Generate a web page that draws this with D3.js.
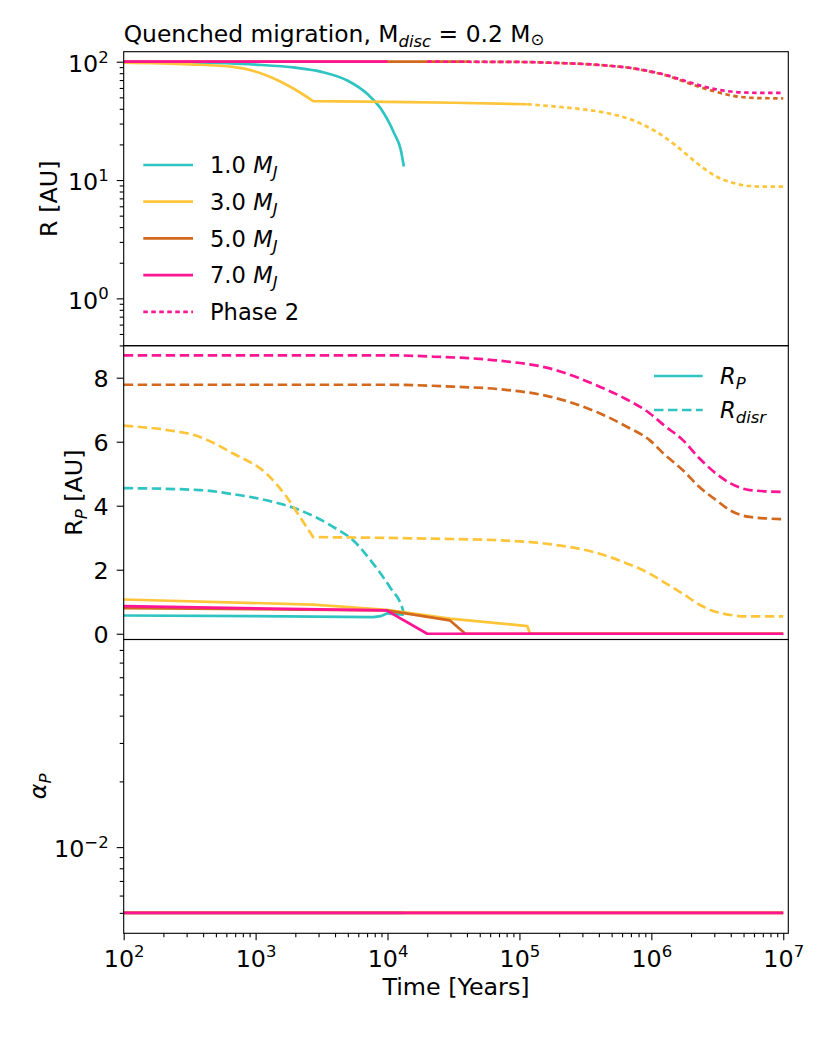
<!DOCTYPE html>
<html>
<head>
<meta charset="utf-8">
<script src="https://cdn.jsdelivr.net/npm/d3@7"></script>
<style>
body { margin: 0; background: #fff; }
text { font-family: "DejaVu Sans", sans-serif; fill: #000; }
</style>
</head>
<body>
<div id="chart-area"></div>
<script>
// ---- data ----
let masses = ['1.0', '3.0', '5.0', '7.0'];
let colors = ['#2ec4c2', '#ffc53a', '#d2691e', '#ff1493'];

// Top panel: R [AU], phase 1 (solid)
let rTime1 = [
    [100, 316, 1000, 2000, 3160, 5000, 7080, 8910, 11200, 12600, 13300],
    [100, 316, 676, 1200, 1905, 2730, 10000, 31600, 114800],
    [100, 38900],
    [100, 10000]
];
let rVal1 = [
    [99.5, 98.5, 94.5, 89, 82, 69, 53, 40, 25, 18, 13],
    [98, 95, 90.5, 77, 60, 46.5, 45.8, 45, 43.7],
    [100, 100],
    [100, 100]
];
// Top panel: R [AU], phase 2 (dotted)
let rTime2 = [
    [],
    [114800, 199500, 281800, 405500, 562300, 726100, 1000000, 1300000, 1585000, 2065000, 2512000, 3105000, 3981000, 5559000, 7079000, 10000000],
    [38900, 100000, 199500, 316200, 501200, 726100, 1000000, 1300000, 1585000, 2065000, 2512000, 3105000, 3981000, 5559000, 7079000, 10000000],
    [20000, 100000, 199500, 316200, 501200, 726100, 1000000, 1300000, 1585000, 2065000, 2512000, 3105000, 3981000, 5559000, 7079000, 10000000]
];
let rVal2 = [
    [],
    [43.7, 41.5, 40, 37.8, 35, 32, 27, 22.5, 19, 14.8, 12.5, 10.7, 9.6, 8.9, 8.8, 8.8],
    [100, 99.5, 97.5, 95.5, 92, 88, 82, 76.5, 71, 64, 59.5, 55.7, 52, 49.6, 49.2, 49],
    [100, 99.5, 97.5, 95.5, 92, 88, 82.5, 77, 72, 65.6, 61.5, 58.4, 56, 54.7, 54.5, 54.5]
];

// Middle panel: R_P (solid)
let rpTime = [
    [100, 1000, 7780, 8910, 10000, 10700, 13300],
    [100, 2730, 9820, 29650, 114800, 120200, 10000000],
    [100, 9820, 29650, 38900, 10000000],
    [100, 9820, 20000, 10000000]
];
let rpVal = [
    [0.57, 0.55, 0.52, 0.55, 0.64, 0.62, 0.6],
    [1.07, 0.91, 0.75, 0.47, 0.24, 0, 0],
    [0.8, 0.73, 0.42, 0, 0],
    [0.86, 0.73, 0, 0]
];
// Middle panel: R_disr (dashed)
let rdTime = [
    [100, 378, 676, 1210, 2170, 3870, 5480, 7780, 10400, 13100, 13300],
    [100, 200, 378, 676, 1210, 1714, 2168, 2729, 22130, 70800, 169800, 405500, 631000, 970000, 1259000, 1734000, 2291000, 3105000, 5559000, 10000000],
    [100, 10000, 31600, 70800, 169800, 405500, 631000, 970000, 1259000, 1734000, 2291000, 3105000, 3981000, 5559000, 10000000],
    [100, 10000, 22130, 70800, 169800, 405500, 631000, 970000, 1259000, 1734000, 2291000, 3105000, 3981000, 5559000, 10000000]
];
let rdVal = [
    [4.55, 4.49, 4.36, 4.17, 3.86, 3.34, 2.92, 2.19, 1.46, 0.73, 0.62],
    [6.5, 6.38, 6.15, 5.63, 5.0, 4.28, 3.65, 3.02, 2.97, 2.92, 2.8, 2.5, 2.22, 1.88, 1.6, 1.25, 0.92, 0.68, 0.54, 0.54],
    [7.78, 7.78, 7.72, 7.64, 7.41, 6.89, 6.5, 6.05, 5.6, 5.11, 4.6, 4.17, 3.85, 3.65, 3.58],
    [8.7, 8.7, 8.66, 8.53, 8.29, 7.72, 7.35, 6.89, 6.5, 6.05, 5.5, 5.0, 4.7, 4.49, 4.43]
];

// Bottom panel: alpha_P
let aTime = [
    [100, 13300],
    [100, 10000000],
    [100, 10000000],
    [100, 10000000]
];
let aVal = [
    [0.005, 0.005],
    [0.005, 0.005],
    [0.005, 0.005],
    [0.005, 0.005]
];

// sharp corners (index of the point) in the smooth curves
let rKink1 = [[], [5], [], []];
let rdKink = [[], [7], [], []];

let xMajor = [1e2, 1e3, 1e4, 1e5, 1e6, 1e7];
let xExp = ['2', '3', '4', '5', '6', '7'];
let rMajor = [1, 10, 100];
let rExp = ['0', '1', '2'];
let rpTicks = [0, 2, 4, 6, 8];
let aMajor = [0.01];
let aExp = ['\u22122'];

// ---- layout ----
let svgWidth = 830, svgHeight = 1038;
let left = 123.7, right = 788.3;
let pTop = [51.7, 345.7], pMid = [345.7, 639.5], pBot = [639.5, 933.3];
let fs = 23.8;      // ticks and axis labels
let fsTitle = 23.4;
let fsLeg = 22.6;
let fsSub = 16.5;

let svg = d3.select('#chart-area')
    .append('svg')
    .attr('width', svgWidth)
    .attr('height', svgHeight);

// Scales
let x = d3.scaleLog().domain([100, 1.092e7]).range([left, right]);
let yTop = d3.scaleLog().domain([0.398, 121.5]).range([pTop[1], pTop[0]]);
let yMid = d3.scaleLinear().domain([-0.18, 9.0]).range([pMid[1], pMid[0]]);
let yBot = d3.scaleLog().domain([0.00403, 0.0893]).range([pBot[1], pBot[0]]);

// minor ticks for a log domain
function minorTicks(scale) {
    let d = scale.domain(), out = [];
    for (let k = -4; k <= 8; k++) {
        for (let m = 2; m <= 9; m++) {
            let v = m * Math.pow(10, k);
            if (v >= d[0] && v <= d[1]) out.push(v);
        }
    }
    return out;
}

function styleAxis(g) {
    g.select('.domain').remove();
    g.selectAll('line').attr('stroke', '#000').attr('stroke-width', 1.1);
}

function supText(sel, exps, anchor) {
    sel.each(function(d, i) {
        let t = d3.select(this);
        t.text(null).attr('font-size', fs).attr('text-anchor', anchor).attr('dy', null);
        t.append('tspan').text('10');
        t.append('tspan').attr('dy', -9.5).attr('font-size', fsSub).text(exps[i]);
    });
}

// clip paths
[['cTop', pTop], ['cMid', pMid], ['cBot', pBot]].forEach(function(c) {
    svg.append('clipPath').attr('id', c[0])
        .append('rect')
        .attr('x', left).attr('y', c[1][0])
        .attr('width', right - left).attr('height', c[1][1] - c[1][0]);
});

// draws a series; smooth curves are split at the kink points
function drawLine(clip, yScale, ts, vs, color, dash, curve, kinks) {
    let pts = ts.map(function(t, i) { return [t, vs[i]]; });
    if (pts.length < 2) return;
    let line = d3.line()
        .curve(curve)
        .x(function(d) { return x(d[0]); })
        .y(function(d) { return yScale(d[1]); });
    let cuts = [0].concat(kinks || [], [pts.length - 1]);
    let d = '';
    for (let k = 0; k < cuts.length - 1; k++) {
        let seg = line(pts.slice(cuts[k], cuts[k + 1] + 1));
        d += (k === 0) ? seg : seg.replace(/^M[^A-Za-z]*/, '');
    }
    let p = svg.append('path')
        .attr('clip-path', 'url(#' + clip + ')')
        .attr('d', d)
        .attr('fill', 'none')
        .attr('stroke', color)
        .attr('stroke-width', 2.7)
        .attr('stroke-linejoin', 'round');
    if (dash) p.attr('stroke-dasharray', dash);
}

let dotted = '4.5,3.5';
let dashed = '9.5,4.5';
let smooth = d3.curveMonotoneX;

// ---- Top panel ----
masses.forEach(function(m, i) {
    drawLine('cTop', yTop, rTime1[i], rVal1[i], colors[i], null, smooth, rKink1[i]);
    drawLine('cTop', yTop, rTime2[i], rVal2[i], colors[i], dotted, smooth, []);
});

// ---- Middle panel ----
masses.forEach(function(m, i) {
    drawLine('cMid', yMid, rpTime[i], rpVal[i], colors[i], null, d3.curveLinear, []);
    drawLine('cMid', yMid, rdTime[i], rdVal[i], colors[i], dashed, smooth, rdKink[i]);
});

// ---- Bottom panel ----
masses.forEach(function(m, i) {
    drawLine('cBot', yBot, aTime[i], aVal[i], colors[i], null, d3.curveLinear, []);
});

// ---- Frames ----
[pTop, pMid, pBot].forEach(function(p) {
    svg.append('rect')
        .attr('x', left).attr('y', p[0])
        .attr('width', right - left).attr('height', p[1] - p[0])
        .attr('fill', 'none').attr('stroke', '#000').attr('stroke-width', 1.1);
});

// ---- Y axes ----
// top
let gTop = svg.append('g').attr('transform', 'translate(' + left + ',0)');
gTop.append('g').call(d3.axisLeft(yTop).tickValues(minorTicks(yTop)).tickSize(4).tickFormat('')).call(styleAxis);
let gTopMaj = gTop.append('g').call(d3.axisLeft(yTop).tickValues(rMajor).tickSize(7).tickPadding(8)).call(styleAxis);
gTopMaj.selectAll('text').call(supText, rExp, 'end').attr('y', 9.8);

// middle
let gMid = svg.append('g').attr('transform', 'translate(' + left + ',0)');
gMid.append('g').call(d3.axisLeft(yMid).tickValues(rpTicks).tickSize(7).tickPadding(8).tickFormat(d3.format('d')))
    .call(styleAxis)
    .selectAll('text').attr('font-size', fs).attr('dy', null).attr('y', 8.6);

// bottom
let gBot = svg.append('g').attr('transform', 'translate(' + left + ',0)');
gBot.append('g').call(d3.axisLeft(yBot).tickValues(minorTicks(yBot)).tickSize(4).tickFormat('')).call(styleAxis);
let gBotMaj = gBot.append('g').call(d3.axisLeft(yBot).tickValues(aMajor).tickSize(7).tickPadding(8)).call(styleAxis);
gBotMaj.selectAll('text').call(supText, aExp, 'end').attr('y', 9.8);

// ---- X axis ----
let gX = svg.append('g').attr('transform', 'translate(0,' + pBot[1] + ')');
gX.append('g').call(d3.axisBottom(x).tickValues(minorTicks(x).filter(function(v) { return v < 1e7; })).tickSize(4).tickFormat('')).call(styleAxis);
let gXMaj = gX.append('g').call(d3.axisBottom(x).tickValues(xMajor).tickSize(7)).call(styleAxis);
gXMaj.selectAll('text').call(supText, xExp, 'middle').attr('y', 33.6);

// ---- Axis labels ----
svg.append('text')
    .attr('transform', 'translate(57,198.7) rotate(-90)')
    .attr('text-anchor', 'middle').attr('font-size', fs)
    .text('R [AU]');

let rpLab = svg.append('text')
    .attr('transform', 'translate(82,492.6) rotate(-90)')
    .attr('text-anchor', 'middle').attr('font-size', fs);
rpLab.append('tspan').text('R');
rpLab.append('tspan').attr('dy', 5).attr('font-size', fsSub).attr('font-style', 'italic').text('P');
rpLab.append('tspan').attr('dy', -5).text(' [AU]');

let aLab = svg.append('text')
    .attr('transform', 'translate(46,786.4) rotate(-90)')
    .attr('text-anchor', 'middle').attr('font-size', fs);
aLab.append('tspan').attr('font-style', 'italic').text('\u03b1');
aLab.append('tspan').attr('dy', 5).attr('font-size', fsSub).attr('font-style', 'italic').text('P');

svg.append('text')
    .attr('x', (left + right) / 2).attr('y', 995)
    .attr('text-anchor', 'middle').attr('font-size', fs)
    .text('Time [Years]');

// ---- Title ----
let title = svg.append('text')
    .attr('x', left).attr('y', 41.7)
    .attr('font-size', fsTitle);
title.append('tspan').text('Quenched migration, M');
title.append('tspan').attr('dy', 5).attr('font-size', fsSub).attr('font-style', 'italic').text('disc');
title.append('tspan').attr('dy', -5).text(' = 0.2 M');
title.append('tspan').attr('dy', 3).attr('font-size', fsSub).text('\u2299');

// ---- Legend (top panel) ----
let legTop = svg.append('g');
let legItems = masses.map(function(m, i) { return { label: m, color: colors[i], dash: null }; });
legItems.push({ label: 'Phase 2', color: colors[3], dash: dotted });
legItems.forEach(function(it, i) {
    let yy = 165 + i * 36.7;
    let row = legTop.append('g').attr('transform', 'translate(0,' + yy + ')');
    let ln = row.append('line')
        .attr('x1', 143.3).attr('x2', 193)
        .attr('stroke', it.color).attr('stroke-width', 2.7);
    if (it.dash) ln.attr('stroke-dasharray', it.dash);
    let tx = row.append('text').attr('x', 210).attr('y', 8.2).attr('font-size', fsLeg);
    if (it.dash) {
        tx.text(it.label);
    } else {
        tx.append('tspan').text(it.label + ' ');
        tx.append('tspan').attr('font-style', 'italic').text('M');
        tx.append('tspan').attr('dy', 5).attr('font-size', fsSub).attr('font-style', 'italic').text('J');
    }
});

// ---- Legend (middle panel) ----
let legMid = svg.append('g');
[['P', null], ['disr', dashed]].forEach(function(it, i) {
    let yy = 376 + i * 34;
    let row = legMid.append('g').attr('transform', 'translate(0,' + yy + ')');
    let ln = row.append('line')
        .attr('x1', 654).attr('x2', 702.7)
        .attr('stroke', colors[0]).attr('stroke-width', 2.7);
    if (it[1]) ln.attr('stroke-dasharray', it[1]);
    let tx = row.append('text').attr('x', 720).attr('y', 8.2).attr('font-size', fsLeg);
    tx.append('tspan').attr('font-style', 'italic').text('R');
    tx.append('tspan').attr('dy', 5).attr('font-size', fsSub).attr('font-style', 'italic').text(it[0]);
});
</script>
</body>
</html>
